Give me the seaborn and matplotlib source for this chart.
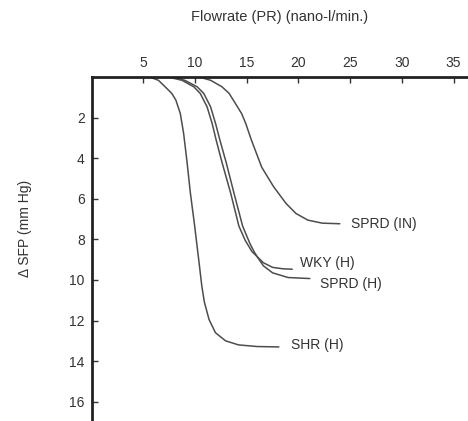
import numpy as np
import pandas as pd
import matplotlib
matplotlib.use("Agg")
import matplotlib.pyplot as plt
import seaborn as sns

# ---- data ----
shr_x = [5.6, 6.45, 7.1, 7.75, 8.14, 8.57, 8.89, 9.2, 9.54, 9.96, 10.35, 10.65, 10.9,
         11.35, 11.97, 12.95, 14.2, 16.0, 18.1]
shr_y = [0.0, 0.16, 0.48, 0.81, 1.14, 1.8, 2.78, 4.1, 5.7, 7.35, 9.0, 10.3, 11.1,
         11.95, 12.6, 13.0, 13.2, 13.28, 13.3]

wky_x = [7.4, 8.73, 9.87, 10.5, 11.16, 11.65, 12.04, 12.6, 13.43, 14.24, 14.85, 15.5,
         16.0, 16.6, 17.5, 18.5, 19.4]
wky_y = [0.0, 0.16, 0.48, 0.81, 1.47, 2.29, 3.11, 4.2, 5.7, 7.35, 8.05, 8.6,
         8.85, 9.15, 9.38, 9.45, 9.47]

sprdh_x = [7.8, 9.0, 10.2, 10.84, 11.5, 11.98, 12.4, 13.0, 13.75, 14.6, 15.3, 15.7,
           16.0, 16.6, 17.5, 19.0, 21.1]
sprdh_y = [0.0, 0.16, 0.48, 0.81, 1.47, 2.29, 3.11, 4.2, 5.7, 7.35, 8.2, 8.6,
           8.85, 9.3, 9.65, 9.88, 9.93]

sprdin_x = [10.4, 11.5, 12.6, 13.3, 14.1, 14.5, 14.9, 15.45, 16.45, 17.6, 18.8, 19.75,
            20.9, 22.3, 24.0]
sprdin_y = [0.0, 0.16, 0.48, 0.81, 1.47, 1.8, 2.29, 3.11, 4.45, 5.41, 6.23, 6.72,
            7.05, 7.2, 7.23]

series_names = ["SHR (H)", "WKY (H)", "SPRD (H)", "SPRD (IN)"]
label_x = [19.3, 20.1, 22.1, 25.1]
label_y = [13.2, 9.15, 10.2, 7.22]

x_ticks = [5, 10, 15, 20, 25, 30, 35]
y_ticks = [2, 4, 6, 8, 10, 12, 14, 16]

frames = []
for name, xs, ys in zip(series_names,
                        [shr_x, wky_x, sprdh_x, sprdin_x],
                        [shr_y, wky_y, sprdh_y, sprdin_y]):
    frames.append(pd.DataFrame({"flow": xs, "sfp": ys, "group": name}))
df = pd.concat(frames, ignore_index=True)

sns.set_theme(style="ticks")
plt.rcParams["font.family"] = ["Liberation Sans", "DejaVu Sans"]

fig = plt.figure(figsize=(4.68, 4.21), dpi=100)
ax = fig.add_axes([0.196, 0.0, 0.804, 0.817])

line_col = "#4d4d4d"
sns.lineplot(data=df, x="flow", y="sfp", hue="group", units="group",
             estimator=None, sort=False, palette={n: line_col for n in series_names},
             linewidth=1.1, legend=False, ax=ax)

for name, lx, ly in zip(series_names, label_x, label_y):
    ax.text(lx, ly, name, ha="left", va="center", fontsize=10, color="#333333")

ax.set_xlim(0, 36.4)
ax.set_ylim(16.95, 0)
ax.set_xticks(x_ticks)
ax.set_yticks(y_ticks)
ax.xaxis.tick_top()
ax.xaxis.set_label_position("top")
ax.tick_params(axis="both", direction="in", length=4, width=1.0, colors="#333333",
               labelsize=10, pad=5)
for s in ["bottom", "right"]:
    ax.spines[s].set_visible(False)
for s in ["top", "left"]:
    ax.spines[s].set_linewidth(2.0)
    ax.spines[s].set_color("#222222")

ax.set_xlabel("Flowrate (PR) (nano-l/min.)", fontsize=10.5, color="#333333", labelpad=25)
ax.set_ylabel("\u0394 SFP (mm Hg)", fontsize=10, color="#333333")
ax.yaxis.set_label_coords(-0.16, 0.56)
ax.set_facecolor("white")
fig.patch.set_facecolor("white")

fig.savefig("out.png", dpi=100)
